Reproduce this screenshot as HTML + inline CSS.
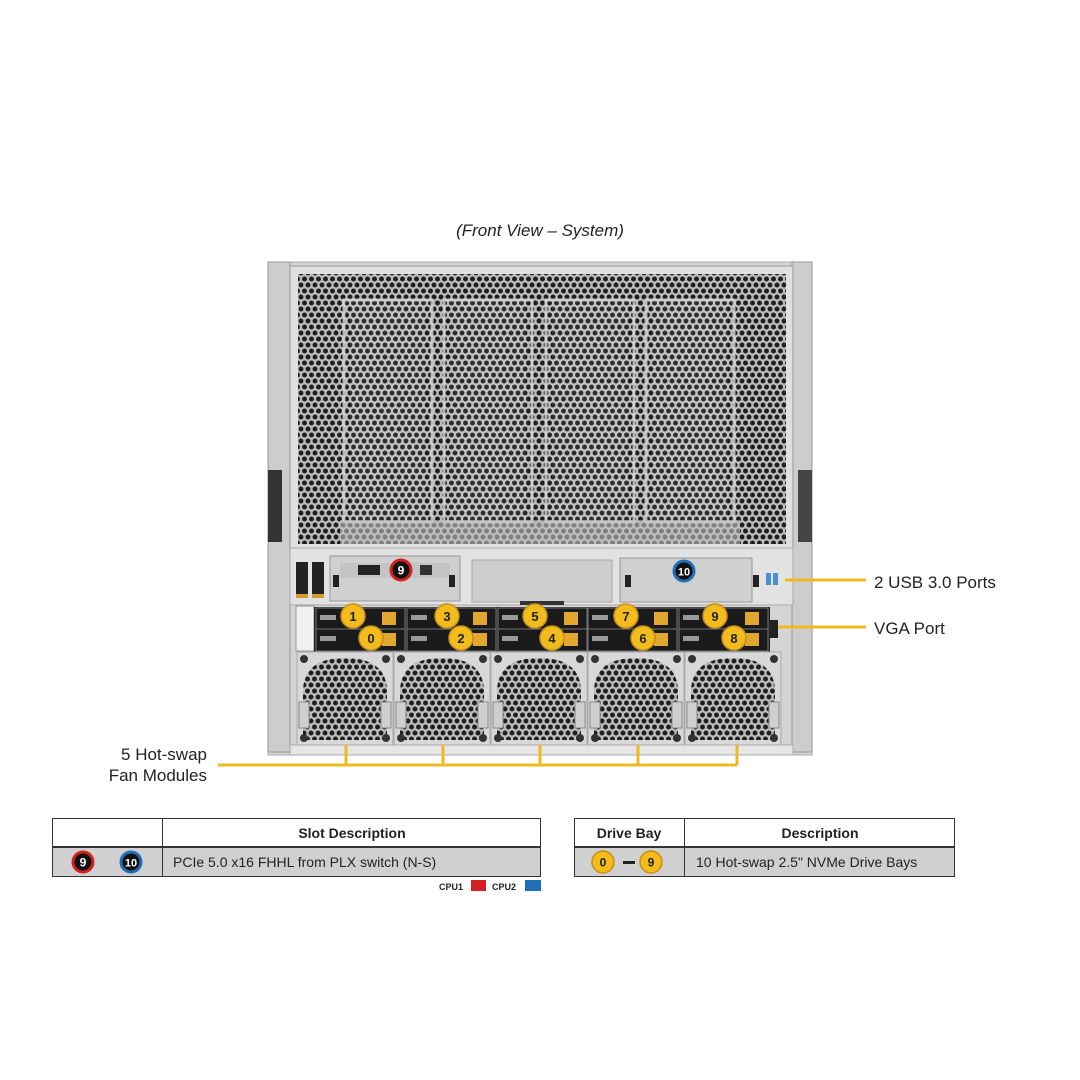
<!DOCTYPE html>
<html><head><meta charset="utf-8"><style>
html,body{margin:0;padding:0;background:#fff;}
svg{display:block;font-family:"Liberation Sans",Arial,sans-serif;}
</style></head><body>
<svg width="1080" height="1080" viewBox="0 0 1080 1080" xmlns="http://www.w3.org/2000/svg">
<defs>
<pattern id="mesh" width="7" height="12" patternUnits="userSpaceOnUse">
<rect width="7" height="12" fill="#bcbcbc"/>
<circle cx="3.5" cy="3" r="2.45" fill="#1e1e1e"/>
<circle cx="0" cy="9" r="2.45" fill="#1e1e1e"/>
<circle cx="7" cy="9" r="2.45" fill="#1e1e1e"/>
</pattern>
<pattern id="mesh2" width="7" height="12" patternUnits="userSpaceOnUse">
<rect width="7" height="12" fill="#c8c8c8"/>
<circle cx="3.5" cy="3" r="2.4" fill="#3a3a3a"/>
<circle cx="0" cy="9" r="2.4" fill="#3a3a3a"/>
<circle cx="7" cy="9" r="2.4" fill="#3a3a3a"/>
</pattern>
<g id="fan">
<rect x="0" y="0" width="96" height="93" fill="#d8d8d8" stroke="#aaa"/>
<path d="M6 40 Q6 6 48 6 Q90 6 90 40 V88 H6 Z" fill="url(#mesh)"/>
<rect x="2" y="50" width="10" height="26" fill="#cfcfcf" stroke="#888"/>
<rect x="84" y="50" width="10" height="26" fill="#cfcfcf" stroke="#888"/>
<circle cx="7" cy="7" r="4" fill="#333"/><circle cx="89" cy="7" r="4" fill="#333"/>
<circle cx="7" cy="86" r="4" fill="#333"/><circle cx="89" cy="86" r="4" fill="#333"/>
</g>
<g id="bay">
<rect x="0" y="0" width="89" height="22" fill="#1a1a1a" stroke="#777"/>
<rect x="4" y="7" width="16" height="5" fill="#999"/>
<rect x="66" y="4" width="14" height="13" fill="#e0a830"/>
</g>
</defs>

<text x="540" y="236" text-anchor="middle" font-size="17" font-style="italic" fill="#222">(Front View – System)</text>

<rect x="268" y="262" width="544" height="493" fill="#d4d4d4" stroke="#aaa"/>
<rect x="268" y="262" width="22" height="490" fill="#cdcdcd" stroke="#999"/>
<rect x="792" y="262" width="20" height="490" fill="#cdcdcd" stroke="#999"/>
<rect x="268" y="470" width="14" height="72" fill="#333"/>
<rect x="798" y="470" width="14" height="72" fill="#444"/>
<rect x="290" y="266" width="503" height="282" fill="#e0e0e0" stroke="#999"/>
<rect x="298" y="274" width="488" height="270" fill="url(#mesh)"/>
<g fill="none" stroke="#d8d8d8" stroke-width="3" opacity="0.8">
<rect x="344" y="300" width="88" height="222"/>
<rect x="444" y="300" width="88" height="222"/>
<rect x="546" y="300" width="88" height="222"/>
<rect x="646" y="300" width="88" height="222"/>
</g>
<g fill="url(#mesh2)" opacity="0.55">
<rect x="350" y="302" width="76" height="218"/>
<rect x="450" y="302" width="76" height="218"/>
<rect x="552" y="302" width="76" height="218"/>
<rect x="652" y="302" width="76" height="218"/>
</g>
<rect x="340" y="520" width="400" height="24" fill="#bfbfbf" opacity="0.6"/>

<rect x="290" y="548" width="503" height="57" fill="#e2e2e2" stroke="#aaa"/>
<rect x="296" y="562" width="12" height="34" fill="#222"/><rect x="312" y="562" width="12" height="34" fill="#222"/>
<rect x="296" y="594" width="12" height="4" fill="#d49a30"/><rect x="312" y="594" width="12" height="4" fill="#d49a30"/>
<rect x="330" y="556" width="130" height="45" fill="#d0d0d0" stroke="#999"/>
<rect x="340" y="563" width="110" height="15" fill="#c4c4c4"/>
<rect x="358" y="565" width="22" height="10" fill="#222"/><rect x="420" y="565" width="12" height="10" fill="#333"/>
<rect x="333" y="575" width="6" height="12" fill="#222"/><rect x="449" y="575" width="6" height="12" fill="#222"/>
<rect x="472" y="560" width="140" height="42" fill="#cecece" stroke="#aaa"/>
<rect x="520" y="601" width="44" height="4" fill="#333"/>
<rect x="620" y="558" width="132" height="44" fill="#d0d0d0" stroke="#999"/>
<rect x="625" y="575" width="6" height="12" fill="#222"/><rect x="753" y="575" width="6" height="12" fill="#222"/>
<rect x="766" y="573" width="5" height="12" fill="#4a90d0"/><rect x="773" y="573" width="5" height="12" fill="#4a90d0"/>

<rect x="296" y="606" width="18" height="45" fill="#f0f0f0" stroke="#999"/>
<rect x="314" y="607" width="456" height="45" fill="#222"/>
<g>
<use href="#bay" x="316" y="608"/><use href="#bay" x="316" y="629"/>
<use href="#bay" x="407" y="608"/><use href="#bay" x="407" y="629"/>
<use href="#bay" x="498" y="608"/><use href="#bay" x="498" y="629"/>
<use href="#bay" x="588" y="608"/><use href="#bay" x="588" y="629"/>
<use href="#bay" x="679" y="608"/><use href="#bay" x="679" y="629"/>
</g>
<rect x="770" y="620" width="8" height="18" fill="#222"/>

<use href="#fan" x="297" y="652"/>
<use href="#fan" x="394" y="652"/>
<use href="#fan" x="491" y="652"/>
<use href="#fan" x="588" y="652"/>
<use href="#fan" x="685" y="652"/>
<rect x="290" y="745" width="503" height="10" fill="#e6e6e6" stroke="#aaa"/>

<g font-size="13" font-weight="bold" text-anchor="middle" fill="#222">
<g fill="#f2bc1c" stroke="#c8901a" stroke-width="1.5">
<circle cx="353" cy="616" r="12"/><circle cx="447" cy="616" r="12"/><circle cx="535" cy="616" r="12"/><circle cx="626" cy="616" r="12"/><circle cx="715" cy="616" r="12"/>
<circle cx="371" cy="638" r="12"/><circle cx="461" cy="638" r="12"/><circle cx="552" cy="638" r="12"/><circle cx="643" cy="638" r="12"/><circle cx="734" cy="638" r="12"/>
</g>
<text x="353" y="621">1</text><text x="447" y="621">3</text><text x="535" y="621">5</text><text x="626" y="621">7</text><text x="715" y="621">9</text>
<text x="371" y="643">0</text><text x="461" y="643">2</text><text x="552" y="643">4</text><text x="643" y="643">6</text><text x="734" y="643">8</text>
</g>
<circle cx="401" cy="570" r="10" fill="#111" stroke="#d42020" stroke-width="3"/>
<text x="401" y="574.5" text-anchor="middle" font-size="12" font-weight="bold" fill="#fff">9</text>
<circle cx="684" cy="571" r="10" fill="#111" stroke="#1f6fb8" stroke-width="3"/>
<text x="684" y="575.5" text-anchor="middle" font-size="11" font-weight="bold" fill="#fff">10</text>

<g stroke="#f0b820" stroke-width="3" fill="none">
<path d="M785 580 H866"/>
<path d="M778 627 H866"/>
<path d="M218 765 H737"/>
<path d="M346 765 V745 M443 765 V745 M540 765 V745 M638 765 V745 M737 765 V745"/>
</g>
<g font-size="17" fill="#222">
<text x="874" y="588">2 USB 3.0 Ports</text>
<text x="874" y="634">VGA Port</text>
<text x="207" y="760" text-anchor="end">5 Hot-swap</text>
<text x="207" y="781" text-anchor="end">Fan Modules</text>
</g>

<rect x="52" y="847" width="489" height="30" fill="#d0d0d0"/>
<g stroke="#333" fill="none" stroke-width="1">
<rect x="52.5" y="818.5" width="488" height="58"/>
<line x1="52" y1="847" x2="541" y2="847" stroke-width="2"/>
<line x1="162.5" y1="818" x2="162.5" y2="877"/>
</g>
<text x="352" y="838" text-anchor="middle" font-size="14" font-weight="bold" fill="#222">Slot Description</text>
<text x="173" y="867" font-size="14" fill="#222">PCIe 5.0 x16 FHHL from PLX switch (N-S)</text>
<circle cx="83" cy="862" r="10" fill="#111" stroke="#d42020" stroke-width="3"/>
<text x="83" y="866.5" text-anchor="middle" font-size="12" font-weight="bold" fill="#fff">9</text>
<circle cx="131" cy="862" r="10" fill="#111" stroke="#1f6fb8" stroke-width="3"/>
<text x="131" y="866.5" text-anchor="middle" font-size="11" font-weight="bold" fill="#fff">10</text>
<g font-size="9" font-weight="bold" fill="#222">
<text x="439" y="890">CPU1</text><rect x="471" y="880" width="15" height="11" fill="#d42020"/>
<text x="492" y="890">CPU2</text><rect x="525" y="880" width="16" height="11" fill="#1f6fb8"/>
</g>

<rect x="574" y="847" width="381" height="30" fill="#d0d0d0"/>
<g stroke="#333" fill="none" stroke-width="1">
<rect x="574.5" y="818.5" width="380" height="58"/>
<line x1="574" y1="847" x2="955" y2="847" stroke-width="2"/>
<line x1="684.5" y1="818" x2="684.5" y2="877"/>
</g>
<text x="629" y="838" text-anchor="middle" font-size="14" font-weight="bold" fill="#222">Drive Bay</text>
<text x="820" y="838" text-anchor="middle" font-size="14" font-weight="bold" fill="#222">Description</text>
<text x="696" y="867" font-size="14" fill="#222">10 Hot-swap 2.5" NVMe Drive Bays</text>
<circle cx="603" cy="862" r="11" fill="#f2bc1c" stroke="#c8901a" stroke-width="1.5"/>
<text x="603" y="866.5" text-anchor="middle" font-size="12" font-weight="bold" fill="#222">0</text>
<rect x="623" y="861" width="12" height="3" fill="#222"/>
<circle cx="651" cy="862" r="11" fill="#f2bc1c" stroke="#c8901a" stroke-width="1.5"/>
<text x="651" y="866.5" text-anchor="middle" font-size="12" font-weight="bold" fill="#222">9</text>
</svg>
</body></html>
